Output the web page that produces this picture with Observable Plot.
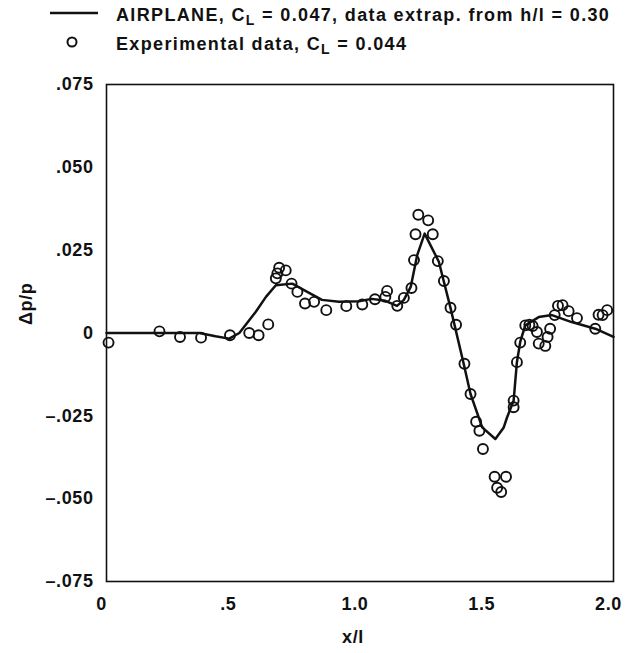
<!DOCTYPE html>
<html>
<head>
<meta charset="utf-8">
<script src="https://cdn.jsdelivr.net/npm/d3@7"></script>
<script src="https://cdn.jsdelivr.net/npm/@observablehq/plot@0.6"></script>
<style>
  html, body { margin: 0; padding: 0; background: #fff; }
  #wrap { position: relative; width: 627px; height: 653px; }
  #legend { position: absolute; left: 0; top: 0; }
  #legend text { font-family: "Liberation Sans", Arial, sans-serif; font-weight: bold; font-size: 18px; letter-spacing: 1.35px; fill: #111; }
</style>
</head>
<body>
<div id="wrap">
  <div id="chart"></div>
  <svg id="legend" width="627" height="60">
    <line x1="50" x2="98" y1="13" y2="13" stroke="#111" stroke-width="2.5"></line>
    <circle cx="72" cy="42" r="4.5" fill="none" stroke="#111" stroke-width="2"></circle>
    <text x="116" y="21">AIRPLANE, C<tspan dy="4" font-size="14">L</tspan><tspan dy="-4"> = 0.047, data extrap. from h/l = 0.30</tspan></text>
    <text x="116" y="50">Experimental data, C<tspan dy="4" font-size="14">L</tspan><tspan dy="-4"> = 0.044</tspan></text>
  </svg>
</div>
<script>
// Computed curve (AIRPLANE)
const lineX = [0, 0.366, 0.43, 0.484, 0.524, 0.589, 0.629, 0.668, 0.733, 0.79, 0.85, 0.917, 0.996, 1.047, 1.10, 1.146, 1.173, 1.20, 1.226, 1.255, 1.311, 1.357, 1.409, 1.436, 1.482, 1.534, 1.567, 1.58, 1.606, 1.619, 1.632, 1.652, 1.705, 1.757, 1.835, 1.928, 2.0];
const lineY = [0, 0, -0.001, -0.0017, 0, 0.0064, 0.0109, 0.0144, 0.0149, 0.0125, 0.010, 0.0094, 0.0096, 0.0103, 0.0097, 0.0082, 0.0100, 0.0139, 0.0236, 0.0300, 0.0215, 0.0076, -0.0093, -0.0184, -0.0285, -0.0320, -0.0285, -0.0255, -0.0204, -0.0088, -0.0027, 0.0023, 0.0048, 0.0054, 0.0033, 0.0013, -0.0012];

// Experimental data
const expX = [0.008, 0.209, 0.29, 0.373, 0.487, 0.563, 0.60, 0.638, 0.668, 0.674, 0.681, 0.707, 0.73, 0.753, 0.783, 0.819, 0.867, 0.946, 1.009, 1.059, 1.10, 1.107, 1.147, 1.173, 1.203, 1.213, 1.219, 1.23, 1.269, 1.287, 1.307, 1.331, 1.357, 1.379, 1.412, 1.436, 1.458, 1.471, 1.485, 1.531, 1.576, 1.541, 1.557, 1.606, 1.606, 1.619, 1.632, 1.652, 1.668, 1.681, 1.698, 1.705, 1.731, 1.740, 1.75, 1.768, 1.781, 1.799, 1.823, 1.856, 1.928, 1.941, 1.957, 1.975];
const expY = [-0.0029, 0.0005, -0.0012, -0.0014, -0.0007, 0, -0.0007, 0.0026, 0.0165, 0.018, 0.0197, 0.0189, 0.0149, 0.0124, 0.0089, 0.0094, 0.0069, 0.0081, 0.0086, 0.0102, 0.0109, 0.0127, 0.0082, 0.0106, 0.0136, 0.022, 0.0298, 0.0357, 0.034, 0.0298, 0.0217, 0.0157, 0.0076, 0.0025, -0.0093, -0.0184, -0.0268, -0.0295, -0.035, -0.0434, -0.0434, -0.0467, -0.048, -0.0204, -0.0224, -0.0088, -0.0029, 0.0023, 0.0025, 0.0021, 0.0003, -0.0032, -0.0039, -0.0012, 0.0013, 0.0054, 0.0082, 0.0084, 0.0066, 0.0045, 0.0013, 0.0055, 0.0054, 0.0069];

const xTicks = [0, 0.5, 1.0, 1.5, 2.0];
const xTickLabels = ["0", ".5", "1.0", "1.5", "2.0"];
const yTicks = [-0.075, -0.05, -0.025, 0, 0.025, 0.05, 0.075];
const yTickLabels = ["\u2013.075", "\u2013.050", "\u2013.025", "0", ".025", ".050", ".075"];
const xTitle = "x/l";
const yTitle = "\u0394p/p";

const line = lineX.map((x, i) => ({x, y: lineY[i]}));
const pts = expX.map((x, i) => ({x, y: expY[i]}));

const chart = Plot.plot({
  width: 627,
  height: 653,
  marginLeft: 106,
  marginRight: 14,
  marginTop: 84,
  marginBottom: 72,
  style: {fontFamily: "'Liberation Sans', Arial, sans-serif", fontWeight: "bold", fontSize: "18px", color: "#111", background: "#fff", letterSpacing: "0.6px"},
  x: {domain: [0, 2]},
  y: {domain: [-0.075, 0.075]},
  marks: [
    Plot.frame({stroke: "#111", strokeWidth: 1.6}),
    Plot.axisX({ticks: xTicks, tickFormat: d => xTickLabels[xTicks.indexOf(d)], tickSize: 0, tickPadding: 16, fontSize: 18, dx: -5, label: null}),
    Plot.axisY({ticks: yTicks, tickFormat: d => yTickLabels[yTicks.findIndex(t => Math.abs(t - d) < 1e-9)], tickSize: 0, tickPadding: 13, fontSize: 18, label: null}),
    Plot.text([xTitle], {text: d => d, frameAnchor: "bottom", dx: -7, dy: 56, lineAnchor: "middle", fontSize: 18, fontWeight: "bold"}),
    Plot.text([yTitle], {text: d => d, frameAnchor: "left", rotate: -90, dx: -80, dy: -8, lineAnchor: "middle", fontSize: 18, fontWeight: "bold"}),
    Plot.line(line, {x: "x", y: "y", stroke: "#111", strokeWidth: 2.5, curve: "linear"}),
    Plot.dot(pts, {x: "x", y: "y", r: 5, stroke: "#111", strokeWidth: 1.9, fill: "none"})
  ]
});
document.getElementById("chart").appendChild(chart);
</script>
</body>
</html>
